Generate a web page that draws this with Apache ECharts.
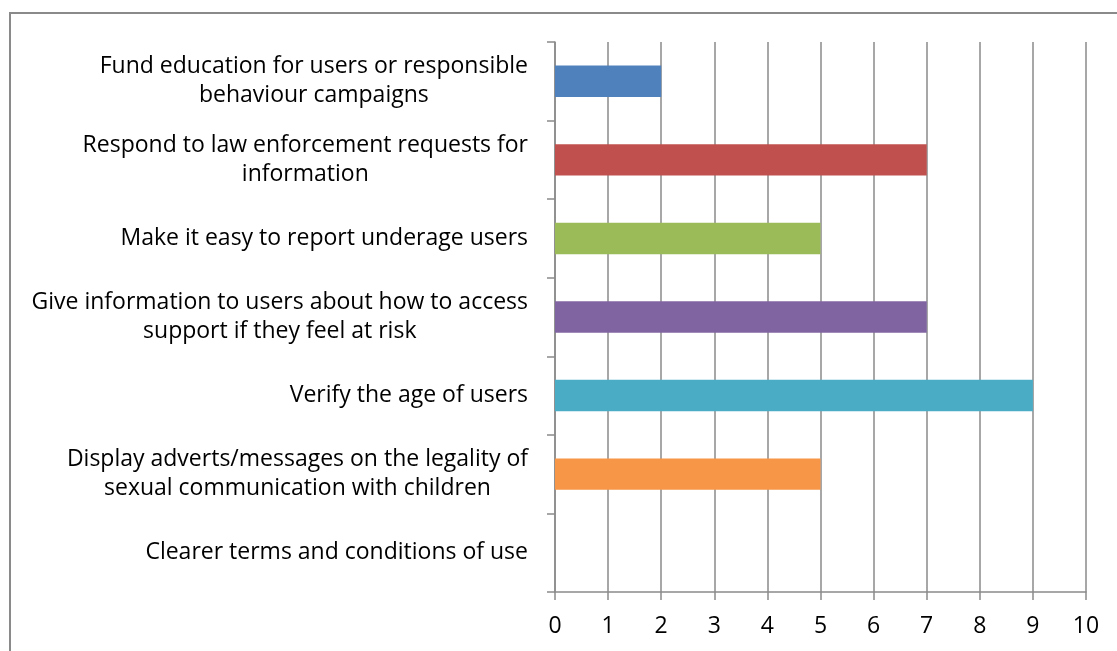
<!DOCTYPE html>
<html>
<head>
<meta charset="utf-8">
<script src="https://cdn.jsdelivr.net/npm/echarts@6/dist/echarts.min.js"></script>
<style>
  html, body { margin: 0; padding: 0; background: #ffffff; }
  #chart { width: 1117px; height: 651px; }
</style>
</head>
<body>
<div id="chart"></div>
<script>
// Categories listed bottom to top (category axis order)
const categories = [
  'Clearer terms and conditions of use',
  'Display adverts/messages on the legality of\nsexual communication with children',
  'Verify the age of users',
  'Give information to users about how to access\nsupport if they feel at risk',
  'Make it easy to report underage users',
  'Respond to law enforcement requests for\ninformation',
  'Fund education for users or responsible\nbehaviour campaigns'
];
const values = [0, 5, 9, 7, 5, 7, 2];
const barColors = ['#9BBB59', '#F79646', '#4BACC6', '#8064A2', '#9BBB59', '#C0504D', '#4F81BD'];
const xTicks = [0, 1, 2, 3, 4, 5, 6, 7, 8, 9, 10];

const FONT = '"Open Sans", "Liberation Sans", sans-serif';
const FONT_SIZE = 23;
const GRID_GRAY = '#8a8a8a';

const chart = echarts.init(document.getElementById('chart'), null, { renderer: 'canvas' });

chart.setOption({
  animation: false,
  backgroundColor: '#ffffff',
  graphic: [{
    type: 'rect',
    shape: { x: 10, y: 13, width: 1200, height: 800 },
    style: { fill: 'none', stroke: '#8a8a8a', lineWidth: 2 },
    silent: true,
    z: -1
  }],
  grid: { left: 555, top: 42, right: 31, bottom: 59, containLabel: false },
  xAxis: {
    type: 'value',
    min: xTicks[0],
    max: xTicks[xTicks.length - 1],
    interval: 1,
    axisLine: { show: true, lineStyle: { color: GRID_GRAY, width: 1.5 } },
    axisTick: { show: true, length: 8, lineStyle: { color: GRID_GRAY, width: 1.5 } },
    splitLine: { show: true, lineStyle: { color: GRID_GRAY, width: 1.5 } },
    axisLabel: {
      margin: 23,
      color: '#000000',
      fontFamily: FONT,
      fontSize: FONT_SIZE
    }
  },
  yAxis: {
    type: 'category',
    data: categories,
    axisLine: { show: true, lineStyle: { color: GRID_GRAY, width: 1.5 } },
    axisTick: { show: true, length: 8, alignWithLabel: false, lineStyle: { color: GRID_GRAY, width: 1.5 } },
    splitLine: { show: false },
    axisLabel: {
      margin: 27,
      align: 'right',
      color: '#000000',
      fontFamily: FONT,
      fontSize: FONT_SIZE,
      lineHeight: 29,
      formatter: function (v) {
        return v.split('\n').map(function (s) { return '{c|' + s + '}'; }).join('\n');
      },
      rich: {
        c: {
          align: 'center',
          color: '#000000',
          fontFamily: FONT,
          fontSize: FONT_SIZE,
          lineHeight: 29
        }
      }
    }
  },
  series: [{
    type: 'bar',
    barWidth: '40%',
    data: values.map(function (v, i) {
      return { value: v, itemStyle: { color: barColors[i] } };
    })
  }]
});
</script>
</body>
</html>
